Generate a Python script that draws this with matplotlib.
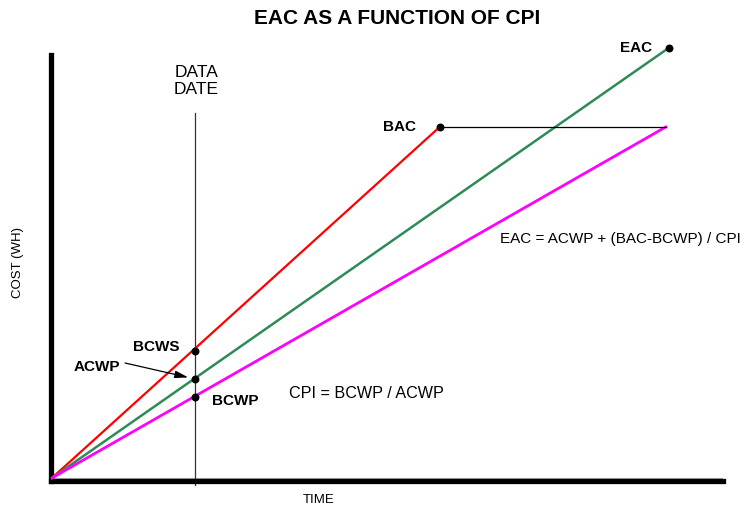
import matplotlib
matplotlib.use("Agg")
import matplotlib.pyplot as plt

plt.rcParams['font.family'] = ['Liberation Sans', 'DejaVu Sans']

# time axis (arbitrary units), cost axis (BAC = 100)
data_date = 10.0
bac_time = 27.1
eac_time = 43.1
bcwp_end_time = 42.9

bcws = 36.2
acwp = 28.2
bcwp = 23.1
bac = 100.0
eac = 122.5

fig = plt.figure(figsize=(7.41, 5.08), dpi=100)
ax = fig.add_axes([0.0682, 0.0522, 0.9757 - 0.0682, 0.8917 - 0.0522])
ax.set_xlim(-0.1, 46.9)
ax.set_ylim(-1.0, 120.5)

for s in ['top', 'right']:
    ax.spines[s].set_visible(False)
for s in ['left', 'bottom']:
    ax.spines[s].set_linewidth(3.8)
ax.set_xticks([])
ax.set_yticks([])

# faint baseline
ax.plot([0, 46.9], [0, 0], color='#aaaaaa', lw=0.8, zorder=1)

# data date line
ax.plot([data_date, data_date], [-2.0, 104.0], color='#333333', lw=0.9, clip_on=False, zorder=2)

# curves
ax.plot([0, bac_time], [0, bac], color='#ff0000', lw=1.6, zorder=3)
ax.plot([0, eac_time], [0, eac], color='#2e8b57', lw=1.8, clip_on=False, zorder=3)
ax.plot([0, bcwp_end_time], [0, bac], color='#ff00ff', lw=2.0, zorder=3)
ax.plot([bac_time, bcwp_end_time], [bac, bac], color='black', lw=0.9, zorder=3)

# points
ax.scatter([data_date, data_date, data_date, bac_time, eac_time],
           [bcws, acwp, bcwp, bac, eac],
           s=22, color='black', zorder=5, clip_on=False)

bold = dict(fontsize=11, fontweight='bold')
ax.annotate('BAC', xy=(bac_time, bac), xytext=(-24, 0), textcoords='offset pixels',
            ha='right', va='center', **bold)
ax.annotate('EAC', xy=(eac_time, eac), xytext=(-16, 0), textcoords='offset pixels',
            ha='right', va='center', annotation_clip=False, **bold)
ax.annotate('BCWS', xy=(data_date, bcws), xytext=(-16, 4), textcoords='offset pixels',
            ha='right', va='center', **bold)
ax.annotate('BCWP', xy=(data_date, bcwp), xytext=(17, -4), textcoords='offset pixels',
            ha='left', va='center', **bold)
ax.annotate('ACWP', xy=(data_date, acwp), xytext=(-75, 12), textcoords='offset pixels',
            ha='right', va='center', **bold)
ax.annotate('', xy=(data_date, acwp), xytext=(-70, 16), textcoords='offset pixels',
            arrowprops=dict(arrowstyle='-|>,head_length=0.8,head_width=0.22',
                            color='black', lw=0.9, shrinkA=0, shrinkB=5))

ax.text(16.6, 24.2, 'CPI = BCWP / ACWP', fontsize=11.6, ha='left', va='center')
ax.text(31.3, 68.1, 'EAC = ACWP + (BAC-BCWP) / CPI', fontsize=11, ha='left', va='center')
ax.text(10.1, 113.1, 'DATA\nDATE', fontsize=12.5, ha='center', va='center',
        linespacing=1.1, clip_on=False)

fig.text(397 / 741, 1 - 19 / 508, 'EAC AS A FUNCTION OF CPI', fontsize=15,
         fontweight='bold', ha='center', va='center')
fig.text(18 / 741, 1 - 263 / 508, 'COST (WH)', fontsize=9.5, rotation=90,
         ha='center', va='center')
fig.text(319 / 741, 1 - 500 / 508, 'TIME', fontsize=9.5, ha='center', va='center')

fig.savefig('out.png', dpi=100)
